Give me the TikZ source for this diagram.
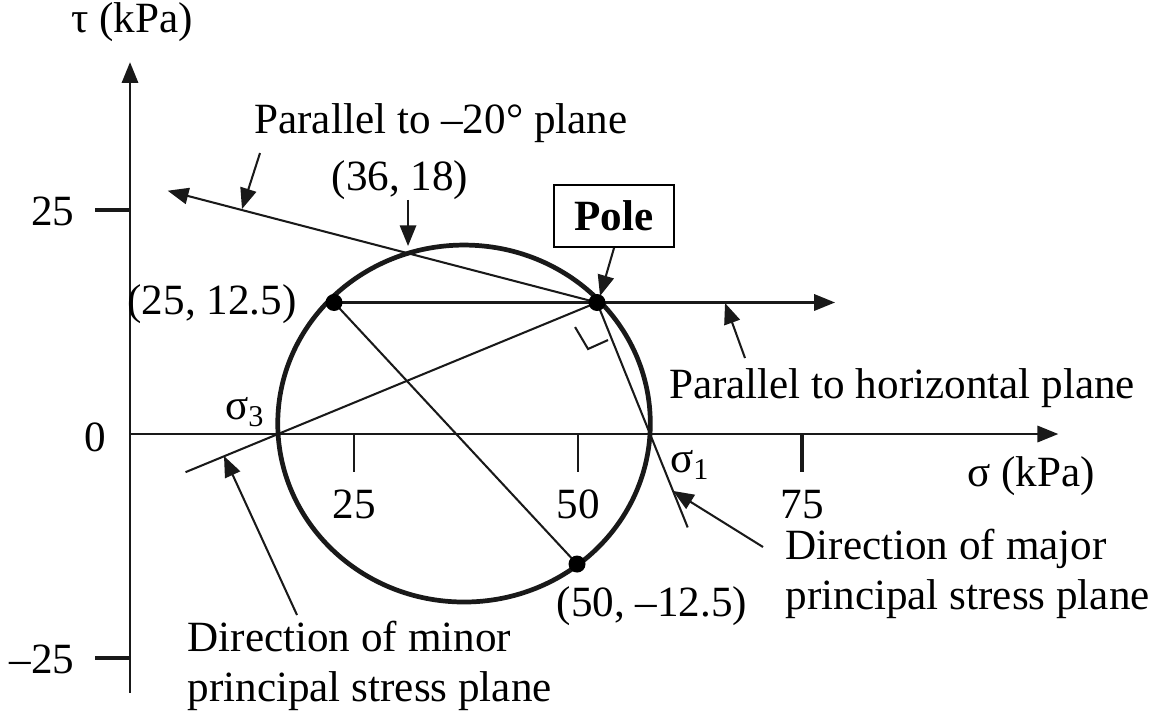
\documentclass[tikz,border=0pt]{standalone}
\usepackage{fontspec}
\setmainfont{Liberation Serif}
\usetikzlibrary{arrows.meta}
\usetikzlibrary{calc}
\colorlet{inkline}{black!90}

\begin{document}
\begin{tikzpicture}[x=0.1cm, y=0.1cm,
        font=\fontsize{13.7}{15.8}\selectfont,
        thinline/.style={line width=0.65pt, inkline},
        boldline/.style={line width=1.5pt, inkline},
        tip/.style={-{Triangle[length=6.6pt, width=5.2pt]}},
        lbl/.style={inner sep=0pt},
        dot/.style={fill=black}]
        \useasboundingbox (-14.51,-31.36) rectangle (113.95,48.44);
        % coordinates
        \coordinate (O) at (0,0);
        \coordinate (xend) at (103.6,0);
        \coordinate (ytop) at (0,41.5);
        \coordinate (ybot) at (0,-28.9);
        \coordinate (C) at (37.28,1.17);
        \coordinate (A) at (22.77,14.68);
        \coordinate (B) at (49.89,-14.51);
        \coordinate (P) at (52.12,14.68);
        \coordinate (D) at (30.92,20.2);
        \coordinate (S3) at (16.52,0);
        \coordinate (S1) at (58.04,0);
        \coordinate (horiz) at (78.68,14.68);
        \coordinate (tilt) at ($(P)!2.26!(D)$);
        \coordinate (minor) at ($(P)!1.29!(S3)$);
        \coordinate (major) at ($(P)!1.71!(S1)$);
        % axes
        \draw[tip][thinline] (O) -- (xend);
        \draw[tip][thinline] (ybot) -- (ytop);
        \foreach \x in {25,50}
        {
            \draw[thinline] (\x,0) -- (\x,-4.2);
        }
        \draw[boldline] (75,0) -- (75,-4.2);
        \foreach \x in {25,50,75}
        {
            \node[lbl] (t\x) at (\x,-7.9) {\x};
        }
        \foreach \y in {25,-25}
        {
            \draw[boldline] (0,\y) -- (-3.9,\y);
        }
        \node[lbl, anchor=east] (ty25) at (-6.14,24.8) {25};
        \node[lbl, anchor=east] (ty0) at (-2.57,-0.33) {0};
        \node[lbl, anchor=east] (tym25) at (-6.14,-25.2) {–25};
        \node[lbl] (tau) at (0.22,45.98) {τ (kPa)};
        \node[lbl] (sigma) at (100.56,-4.69) {σ (kPa)};
        % circle
        \draw[boldline] (C) ellipse [x radius=20.79, y radius=19.92];
        % lines
        \draw[thinline] (A) -- (B);
        \draw[tip][thinline] (A) -- (horiz);
        \draw[tip][thinline] (P) -- (tilt);
        \draw[thinline] (minor) -- (P);
        \draw[thinline] (P) -- (major);
        \draw[thinline] (49.67,11.94) -- (51.12,9.49) -- (53.35,10.49);
        % points
        \foreach \p in {A,B,P}
        {
            \fill[dot] (\p) circle (0.95);
        }
        % labels
        \node[lbl] (lblA) at (9.15,14.51) {(25, 12.5)};
        \node[lbl] (lblB) at (58.26,-19.2) {(50, –12.5)};
        \node[lbl] (lblD) at (30.13,28.35) {(36, 18)};
        \node[lbl] (lblS3) at (12.83,2.46) {σ\textsubscript{3}};
        \node[lbl] (lblS1) at (62.5,-3.46) {σ\textsubscript{1}};
        \node[draw, line width=0.65pt, minimum width=1.33cm, minimum height=0.69cm]
            (pole) at (54.02,24.33) {\textbf{Pole}};
        \node[lbl] (lblTilt) at (34.71,34.7) {Parallel to –20° plane};
        \node[lbl] (lblHoriz) at (86.16,5.13) {Parallel to horizontal plane};
        \node[lbl, anchor=west, align=left] (lblMajor) at (73.1,-15.63)
            {Direction of major\\principal stress plane};
        \node[lbl, anchor=west, align=left] (lblMinor) at (6.36,-25.89)
            {Direction of minor\\principal stress plane};
        % callouts
        \coordinate (tiltTail) at (14.51,31.36);
        \coordinate (tiltTip) at (12.5,25.11);
        \coordinate (dTail) at (31.03,26.12);
        \coordinate (dTip) at (31.03,20.98);
        \coordinate (poleTip) at (52.46,15.4);
        \coordinate (horizTail) at (68.64,8.48);
        \coordinate (horizTip) at (66.41,14.62);
        \coordinate (minorTail) at (18.64,-20.2);
        \coordinate (minorTip) at (10.49,-2.45);
        \coordinate (majorTail) at (70.65,-12.61);
        \coordinate (majorTip) at (60.6,-6.35);
        \draw[tip][thinline] (tiltTail) -- (tiltTip);
        \draw[tip][thinline] (dTail) -- (dTip);
        \draw[tip][thinline] (pole.south) -- (poleTip);
        \draw[tip][thinline] (horizTail) -- (horizTip);
        \draw[tip][thinline] (minorTail) -- (minorTip);
        \draw[tip][thinline] (majorTail) -- (majorTip);
    \end{tikzpicture}
\end{document}
